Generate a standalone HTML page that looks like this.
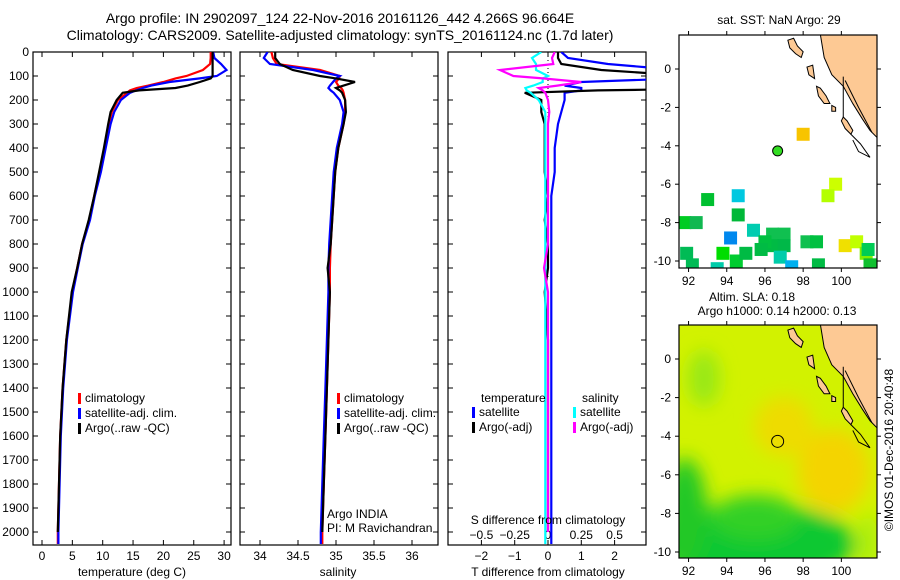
<!DOCTYPE html>
<html><head><meta charset="utf-8"><style>
body{margin:0;background:#fff;}
svg{display:block;font-family:"Liberation Sans",sans-serif;}
</style></head><body>
<svg id="c" width="900" height="580" xmlns="http://www.w3.org/2000/svg">
<defs>
<clipPath id="cp1"><rect x="33" y="52" width="198" height="493"/></clipPath>
<clipPath id="cp2"><rect x="240" y="52" width="198" height="493"/></clipPath>
<clipPath id="cp3"><rect x="448" y="52" width="198" height="493"/></clipPath>
<clipPath id="cm1"><rect x="679" y="35" width="198" height="233"/></clipPath>
<clipPath id="cm2"><rect x="679" y="325" width="198" height="233"/></clipPath>
<filter id="bl" x="-50%" y="-50%" width="200%" height="200%"><feGaussianBlur stdDeviation="9"/></filter>
</defs>
<text x="340" y="23" font-size="14" text-anchor="middle">Argo profile: IN 2902097_124 22-Nov-2016 20161126_442 4.266S 96.664E</text>
<text x="340" y="40" font-size="14" text-anchor="middle">Climatology: CARS2009. Satellite-adjusted climatology: synTS_20161124.nc (1.7d later)</text>
<g id="g"></g>
<text transform="translate(893,450) rotate(-90)" font-size="12" text-anchor="middle">©IMOS 01-Dec-2016 20:40:48</text>
</svg>
<script>
// ---- data ----
const depths=[0,25,50,75,100,110,125,140,150,160,170,200,250,300,400,500,600,700,800,900,1000,1200,1400,1600,1800,2000,2050];
const tempClim=[27.8,27.8,27.7,26.5,23.8,22,20,17.5,15.6,14.5,14,12.5,11.5,11,10.3,9.5,8.6,7.8,6.6,5.8,5.0,4.0,3.4,3.0,2.8,2.6,2.6];
const tempSat=[28.2,28.4,29.5,30.4,28.8,26,21,18,16.6,15.5,14.5,13,11.9,11.3,10.5,9.7,8.7,7.9,6.7,5.9,5.1,4.1,3.5,3.1,2.9,2.7,2.7];
const tempArgo=[28.1,28.1,28.1,28.1,28.1,27.8,26,24,22,16,13.3,12.3,11.3,10.9,10.2,9.4,8.6,7.7,6.6,5.8,4.9,4.0,3.4,3.0,2.8,2.6];
const salClim=[34.15,34.17,34.22,34.79,35.05,35.04,35.0,35.03,35.07,35.09,35.1,35.12,35.12,35.1,35.03,34.99,34.97,34.95,34.93,34.92,34.92,34.9,34.88,34.86,34.84,34.82,34.82];
const salSat=[34.1,34.05,34.13,34.7,35.05,35.0,34.96,34.92,34.9,34.93,34.97,35.05,35.1,35.08,35.01,34.97,34.95,34.93,34.91,34.9,34.9,34.88,34.86,34.84,34.82,34.8,34.8];
const salArgo=[34.2,34.2,34.26,34.43,34.79,35.0,35.25,35.1,35.0,35.05,35.08,35.12,35.13,35.1,35.03,34.99,34.97,34.95,34.93,34.89,34.92,34.9,34.88,34.86,34.84,34.82];
const depthTicks=[0,100,200,300,400,500,600,700,800,900,1000,1100,1200,1300,1400,1500,1600,1700,1800,1900,2000];
const tempTicks=[0,5,10,15,20,25,30];
const salTicks=[34,34.5,35,35.5,36];
const tdTicks=[-2,-1,0,1,2];
const sdTicks=[-0.5,-0.25,0,0.25,0.5];
const lonTicks=[92,94,96,98,100];
const latTicks=[0,-2,-4,-6,-8,-10];
const sstLon=[98.0,99.7,99.3,93.0,94.6,94.6,91.8,92.4,94.2,95.4,96.4,97.0,96.4,97.0,96.8,98.2,98.7,100.2,100.8,101.3,101.5,98.8,97.4,93.8,94.5,95.0,91.9,92.2,93.5,101.4,96.0,95.8];
const sstLat=[-3.4,-6.0,-6.6,-6.8,-6.6,-7.6,-8.0,-8.0,-8.8,-8.4,-8.6,-8.6,-9.2,-9.2,-9.8,-9.0,-9.0,-9.2,-9.0,-9.6,-10.2,-10.2,-10.3,-9.6,-10.0,-9.6,-9.6,-10.2,-10.4,-9.4,-9.0,-9.4];
const sstCol=['#f8c400','#ccff00','#b4ff00','#00c030','#00c8e0','#00b838','#00cc22','#10b850','#0088ee','#00ccb0','#10c050','#10c050','#00bb44','#00b848','#00ccaa','#10c050','#00c040','#f0e000','#c0ff00','#80ee00','#10c030','#00bb44','#00b0f0','#00dd00','#00cc30','#00bb44','#00bb55','#00bb55','#00ccaa','#00cc55','#00c040','#00bb44'];
const argoLon=96.664, argoLat=-4.266;

// ---- scales ----
const yD=d=>52+d*0.24;
const xT=t=>42+t*6.07;
const xS=s=>260+(s-34)*76;
const xTD=t=>548+t*33.3;
const xSD=s=>548+s*133.2;
const mX=lon=>679+(lon-91.5)*19.1;
const mY1=lat=>69-lat*19.2;
const mY2=lat=>359-lat*19.3;

const NS='http://www.w3.org/2000/svg';
const G=document.getElementById('g');
function mk(tag,at,parent){const e=document.createElementNS(NS,tag);for(const k in at)e.setAttribute(k,at[k]);(parent||G).appendChild(e);return e;}
function txt(x,y,s,anchor,size,parent){const e=mk('text',{x:x,y:y,'font-size':size||12,'text-anchor':anchor||'middle'},parent);e.textContent=s;return e;}

function frame(x,y,w,h,name){
 const r=mk('rect',{x:x,y:y,width:w,height:h,fill:'none',stroke:'#000','stroke-width':1.2});
 
 
}
function line(xs,ys,col,name,clip){
 const n=Math.min(xs.length,ys.length);
 let d='';for(let i=0;i<n;i++)d+=(i?'L':'M')+xs[i].toFixed(1)+' '+ys[i].toFixed(1);
 const p=mk('path',{d:d,fill:'none',stroke:col,'stroke-width':2.2,'clip-path':'url(#'+clip+')'});
 
 
}
function depthTickMarks(x0,x1,labels){
 depthTicks.forEach(d=>{const y=yD(d);
  mk('line',{x1:x0,y1:y,x2:x0+5,y2:y,stroke:'#000'});
  mk('line',{x1:x1-5,y1:y,x2:x1,y2:y,stroke:'#000'});
  if(labels){const t=txt(x0-4,y+4,String(d),'end');
   
   }
 });
}
function xTickMarks(vals,fx,ytop,ybot,ylab){
 vals.forEach(v=>{const x=fx(v);
  mk('line',{x1:x,y1:ytop,x2:x,y2:ytop+5,stroke:'#000'});
  mk('line',{x1:x,y1:ybot-5,x2:x,y2:ybot,stroke:'#000'});
  if(ylab!==null){const t=txt(x,ylab,String(v).replace('-','−'));
   
   }
 });
}
function legend(x,y,labels,cols,pref){
 labels.forEach((l,i)=>{
  const r=mk('rect',{x:x,y:y+i*15-9,width:3,height:11,fill:cols[i]});
  
  
  const t=txt(x+7,y+i*15,l,'start');
  
  
 });
}

// Panel 1 temperature
frame(33,52,198,493,'temperature-panel');
depthTickMarks(33,231,true);
xTickMarks(tempTicks,xT,52,545,560);
line(tempClim.map(xT),depths.map(yD),'#f00','temp-climatology-line','cp1');
line(tempSat.map(xT),depths.map(yD),'#00f','temp-satellite-line','cp1');
line(tempArgo.map(xT),depths.map(yD),'#000','temp-argo-line','cp1');
legend(78,402,['climatology','satellite-adj. clim.','Argo(..raw -QC)'],['#f00','#00f','#000'],'temp');
let t=txt(132,576,'temperature (deg C)');



// Panel 2 salinity
frame(240,52,198,493,'salinity-panel');
depthTickMarks(240,438,false);
xTickMarks(salTicks,xS,52,545,560);
line(salClim.map(xS),depths.map(yD),'#f00','sal-climatology-line','cp2');
line(salSat.map(xS),depths.map(yD),'#00f','sal-satellite-line','cp2');
line(salArgo.map(xS),depths.map(yD),'#000','sal-argo-line','cp2');
legend(337,402,['climatology','satellite-adj. clim.','Argo(..raw -QC)'],['#f00','#00f','#000'],'sal');
t=txt(327,518,'Argo INDIA','start');
t=txt(327,532,'PI: M Ravichandran','start');
t=txt(338,576,'salinity');

// Panel 3 differences
frame(448,52,198,493,'difference-panel');
depthTickMarks(448,646,false);
xTickMarks(tdTicks,xTD,52,545,560);
sdTicks.forEach(v=>{const t=txt(xSD(v),539,String(v).replace('-','−'));});
mk('line',{x1:548,y1:60,x2:548,y2:yD(950),stroke:'#000','stroke-dasharray':'1 3'});
const dTs=tempSat.map((v,i)=>v-tempClim[i]);
const dTa=tempArgo.map((v,i)=>v-tempClim[i]);
const dSs=salSat.map((v,i)=>v-salClim[i]);
const dSa=salArgo.map((v,i)=>v-salClim[i]);
line(dTs.map(xTD),depths.map(yD),'#00f','tdiff-satellite-line','cp3');
line(dTa.map(xTD),depths.map(yD),'#000','tdiff-argo-line','cp3');
line(dSs.map(xSD),depths.map(yD),'#0ff','sdiff-satellite-line','cp3');
line(dSa.map(xSD),depths.map(yD),'#f0f','sdiff-argo-line','cp3');
t=txt(481,402,'temperature','start');
t=txt(582,402,'salinity','start');
legend(472,416,['satellite','Argo(-adj)'],['#00f','#000'],'tdiff');
legend(573,416,['satellite','Argo(-adj)'],['#0ff','#f0f'],'sdiff');
t=txt(548,524,'S difference from climatology');
t=txt(548,576,'T difference from climatology');

// Maps
const landLon=[98.9,99.1,99.5,100.1,100.6,101.1,101.5,101.9,101.9];
const landLat=[1.8,0.6,-0.3,-0.9,-1.8,-2.6,-3.2,-3.6,1.8];
const islands=[
 [[97.2,1.5],[97.5,1.6],[97.7,1.2],[98.0,0.9],[97.9,0.6],[97.6,0.8],[97.3,1.1]],
 [[98.2,0.1],[98.5,0.2],[98.6,-0.5],[98.3,-0.3]],
 [[98.7,-0.9],[98.9,-1.0],[99.2,-1.4],[99.4,-1.8],[99.1,-1.8],[98.8,-1.4]],
 [[99.5,-1.9],[99.7,-2.0],[99.7,-2.2],[99.5,-2.2]],
 [[100.1,-2.5],[100.3,-2.7],[100.6,-3.2],[100.5,-3.4],[100.2,-3.1],[100.0,-2.7]]
];
function drawMap(y0,fy,clip,name,bg){
 const g=mk('g',{'clip-path':'url(#'+clip+')'});
 
 
 if(bg){
  mk('rect',{x:679,y:y0,width:198,height:233,fill:'#d2f200'},g);
  const bgG=mk('g',{filter:'url(#bl)'},g);
  mk('ellipse',{cx:mX(95.5),cy:fy(-9.6),rx:100,ry:40,fill:'#10c830'},bgG);
  mk('ellipse',{cx:mX(91.8),cy:fy(-8),rx:22,ry:55,fill:'#20c828'},bgG);
  mk('ellipse',{cx:mX(95.5),cy:fy(-8.2),rx:45,ry:22,fill:'#30d028'},bgG);
  mk('ellipse',{cx:mX(92.8),cy:fy(-1),rx:16,ry:28,fill:'#98e818'},bgG);
  mk('ellipse',{cx:mX(99.6),cy:fy(-5.8),rx:36,ry:42,fill:'#f4d400'},bgG);
  mk('ellipse',{cx:mX(97),cy:fy(-3.5),rx:30,ry:30,fill:'#eedc00'},bgG);
  mk('ellipse',{cx:mX(101.4),cy:fy(-9.5),rx:10,ry:30,fill:'#a8ee10'},bgG);
 }
 let d='';landLon.forEach((l,i)=>{d+=(i?'L':'M')+mX(l)+' '+fy(landLat[i]);});d+='Z';
 mk('path',{d:d,fill:'#fdc994',stroke:'#000','stroke-width':1},g);
 islands.forEach(is=>{let dd='';is.forEach((p,i)=>{dd+=(i?'L':'M')+mX(p[0])+' '+fy(p[1]);});
  mk('path',{d:dd+'Z',fill:'#fdc994',stroke:'#000','stroke-width':1},g);});
 mk('path',{d:'M'+mX(100.1)+' '+fy(-0.4)+'L'+mX(100.1)+' '+fy(-2.5)+'M'+mX(100.5)+' '+fy(-3.4)+'L'+mX(101.0)+' '+fy(-3.9)+'L'+mX(101.5)+' '+fy(-4.6)+'L'+mX(100.9)+' '+fy(-4.3)+'L'+mX(100.6)+' '+fy(-3.7)+'M'+mX(100.2)+' '+fy(-0.6)+'L'+mX(100.9)+' '+fy(-2.0)+'L'+mX(101.6)+' '+fy(-3.3),fill:'none',stroke:'#000','stroke-width':1},g);
 return g;
}
// map 1 SST
const g1=drawMap(35,mY1,'cm1','sst-map',false);
sstLon.forEach((lon,i)=>{
 const r=mk('rect',{x:mX(sstLon[i])-6.5,y:mY1(sstLat[i])-6.5,width:13,height:13,fill:sstCol[i]},g1);
 
 
});
let c=mk('circle',{cx:mX(argoLon),cy:mY1(argoLat),r:5,fill:'#33dd22',stroke:'#000','stroke-width':1});


frame(679,35,198,233,'sst-map-frame');
// map 2 SLA
drawMap(325,mY2,'cm2','sla-map',true);
c=mk('circle',{cx:mX(argoLon),cy:mY2(argoLat),r:6,fill:'none',stroke:'#000','stroke-width':1});


frame(679,325,198,233,'sla-map-frame');

function mapTicks(y0,y1,fy){
 lonTicks.forEach(l=>{const x=mX(l);
  mk('line',{x1:x,y1:y0-4,x2:x,y2:y0,stroke:'#000'});
  mk('line',{x1:x,y1:y1,x2:x,y2:y1+4,stroke:'#000'});
  const t=txt(x,y1+17,String(l));});
 latTicks.forEach(l=>{const y=fy(l);
  mk('line',{x1:675,y1:y,x2:679,y2:y,stroke:'#000'});
  mk('line',{x1:877,y1:y,x2:881,y2:y,stroke:'#000'});
  const t=txt(671,y+4,String(l),'end');});
}
mapTicks(35,268,mY1);
mapTicks(325,558,mY2);
t=txt(779,24,'sat. SST: NaN Argo: 29');
t=txt(752,301,'Altim. SLA: 0.18');
t=txt(777,315,'Argo h1000: 0.14 h2000: 0.13');
</script>
</body></html>
